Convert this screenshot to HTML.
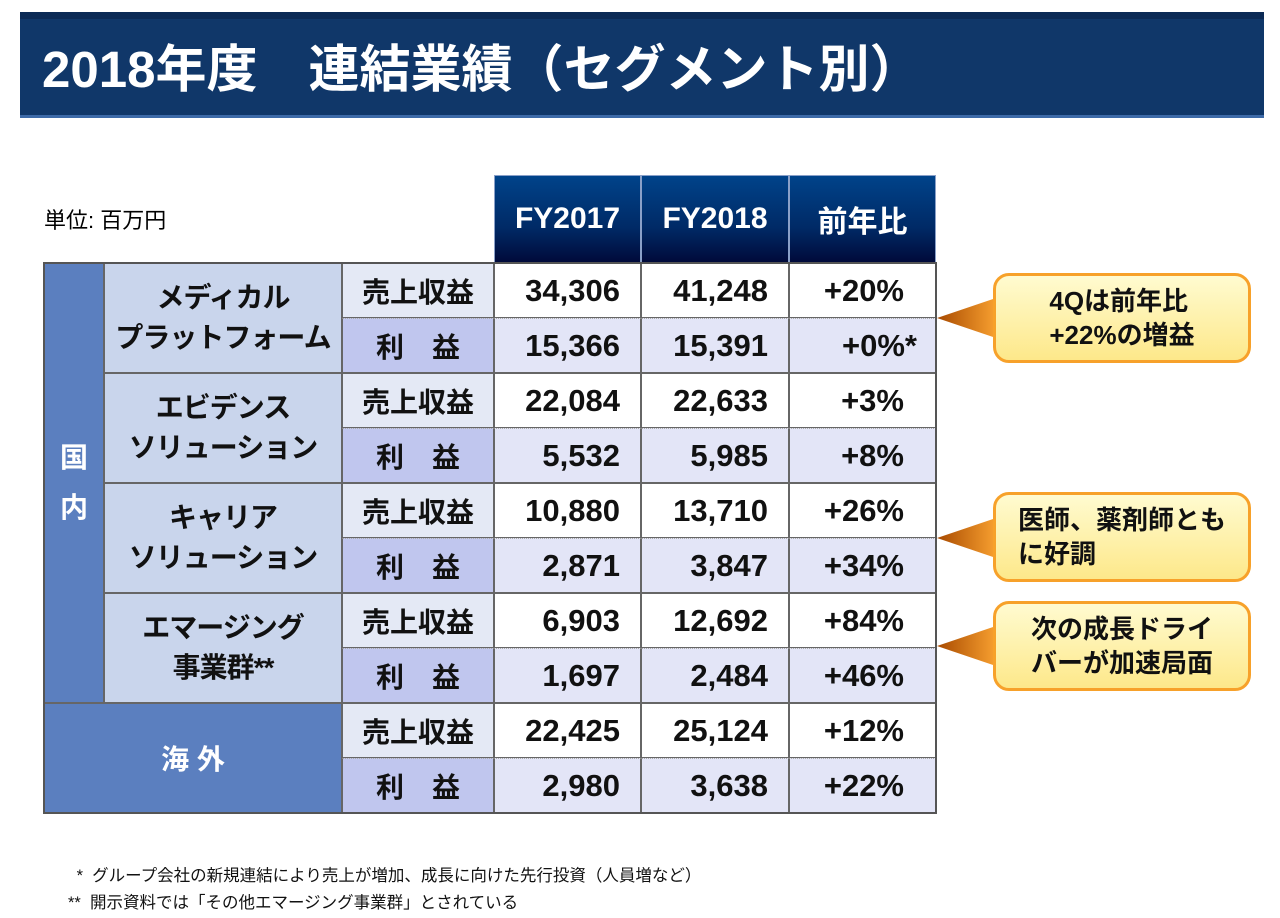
<!DOCTYPE html>
<html><head><meta charset="utf-8">
<style>
body{margin:0;width:1280px;height:918px;background:#fff;position:relative;overflow:hidden;font-family:"Liberation Sans","Noto Sans CJK JP",sans-serif;}
.abs{position:absolute;box-sizing:border-box;}
#title-bar{left:20px;top:12px;width:1244px;height:106px;background:#103769;border-top:7px solid #0b2a55;border-bottom:3px solid #3d6aa8;}
#title{left:42px;top:30px;font-size:51px;font-weight:bold;color:#fff;white-space:pre;line-height:80px;letter-spacing:0px;}
.c{display:flex;align-items:center;justify-content:center;font-weight:bold;color:#111;border:1px solid #666;}
.num{justify-content:flex-end;padding-right:20px;font-size:31px;}
.hdr{background:linear-gradient(#00438a,#002a66 60%,#000a3a);color:#fff;font-size:30px;border:1px solid #8aa0c8;}
.lbl{font-size:28px;}
.call{border:3px solid #f7a12a;border-radius:16px;background:linear-gradient(#fffbd0,#fde88a);font-size:26px;font-weight:bold;color:#111;display:flex;align-items:center;justify-content:center;text-align:left;line-height:34px;}
.note{font-size:16.5px;color:#111;white-space:pre;}
</style></head><body>
<div class="abs" id="title-bar"></div>
<div class="abs" id="title">2018年度　連結業績（セグメント別）</div>
<div class="abs" style="left:44px;top:203px;font-size:22px;">単位: 百万円</div>
<div id="tbl"></div>
<svg class="abs" style="left:936px;top:260px;" width="70" height="440">
<defs><linearGradient id="g" x1="0" x2="1"><stop offset="0" stop-color="#a84a00"/><stop offset="1" stop-color="#f8a030"/></linearGradient></defs>
<polygon points="1,58 60,38 60,78" fill="url(#g)"/>
<polygon points="1,278 60,258 60,298" fill="url(#g)"/>
<polygon points="1,386 60,366 60,406" fill="url(#g)"/>
</svg>
<div class="abs call" style="left:993px;top:273px;width:258px;height:90px;"><div>4Qは前年比<br>+22%の増益</div></div>
<div class="abs call" style="left:993px;top:492px;width:258px;height:90px;"><div>医師、薬剤師とも<br>に好調</div></div>
<div class="abs call" style="left:993px;top:601px;width:258px;height:90px;"><div>次の成長ドライ<br>バーが加速局面</div></div>
<div class="abs note" style="left:72px;top:862px;"> *  グループ会社の新規連結により売上が増加、成長に向けた先行投資（人員増など）</div>
<div class="abs note" style="left:68px;top:889px;">**  開示資料では「その他エマージング事業群」とされている</div>
<script>
const headers=["FY2017","FY2018","前年比"];
const segments=["メディカル<br>プラットフォーム","エビデンス<br>ソリューション","キャリア<br>ソリューション","エマージング<br>事業群**"];
const fy2017=["34,306","15,366","22,084","5,532","10,880","2,871","6,903","1,697","22,425","2,980"];
const fy2018=["41,248","15,391","22,633","5,985","13,710","3,847","12,692","2,484","25,124","3,638"];
const yoy=["+20%","+0%*","+3%","+8%","+26%","+34%","+84%","+46%","+12%","+22%"];
const T=document.getElementById('tbl');
const colX=[44,104,342,494,641,789,936];
const rowY0=263,rh=55;
function cell(x,y,w,h,html,cls,bg,name){
  const d=document.createElement('div');
  d.className='abs c '+cls;
  d.style.cssText=`left:${x}px;top:${y}px;width:${w}px;height:${h}px;`+(bg?`background:${bg};`:'');
  d.innerHTML=html;
  
  
  T.appendChild(d);return d;
}
headers.forEach((h,i)=>cell(colX[3+i],175,colX[4+i]-colX[3+i],88,h,'hdr',null,'header-'+i));
const g=cell(44,263,60,440,'国<br>内','',"#5b7fbf",'domestic-label');
g.style.color='#fff';g.style.fontSize='28px';g.style.lineHeight='50px';
const o=cell(44,703,298,110,'海 外','',"#5b7fbf",'overseas-label');
o.style.color='#fff';o.style.fontSize='28px';
segments.forEach((s,i)=>{const d=cell(104,263+i*110,238,110,s,'lbl',"#c9d5ec",'segment-'+i);d.style.lineHeight='40px';d.style.textAlign='center';d.style.fontSize='28px';d.style.letterSpacing='-1px';});
for(let r=0;r<10;r++){
  const y=rowY0+r*rh, sales=r%2===0;
  const l=cell(342,y,152,rh,sales?'売上収益':'利　益','lbl',sales?"#e4e9f5":"#c0c6ee",sales?'sales-label':'profit-label');
  const a=cell(494,y,147,rh,fy2017[r],'num',sales?"#fff":"#e3e5f7",'fy2017-value');
  const b=cell(641,y,148,rh,fy2018[r],'num',sales?"#fff":"#e3e5f7",'fy2018-value');
  const c=cell(789,y,147,rh,yoy[r],'num',sales?"#fff":"#e3e5f7",'yoy-value');
  c.style.paddingRight=yoy[r].endsWith('*')?'18px':'31px';
  if(!sales){[l,a,b,c].forEach(e=>e.style.borderTop='1px dotted #aaa');}
}
const f=document.createElement('div');
f.className='abs';
f.style.cssText='left:43px;top:262px;width:894px;height:552px;border:2px solid #555;';


T.appendChild(f);
</script>
</body></html>
